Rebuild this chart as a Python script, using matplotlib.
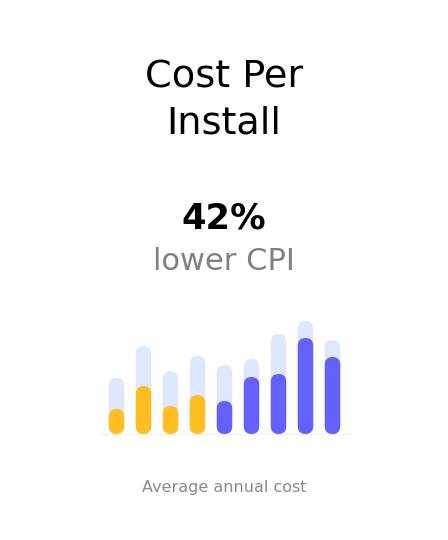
import matplotlib
matplotlib.use("Agg")
import matplotlib.pyplot as plt
from matplotlib.patches import FancyBboxPatch

title_lines = ["Cost Per", "Install"]
headline = "42%"
subline = "lower CPI"
caption = "Average annual cost"

categories = list(range(9))
bg_values = [56, 88, 63, 78, 69, 75, 100, 113, 94]
fg_values = [25, 48, 28, 39, 33, 57, 60, 96, 77]
fg_colors = ["#FFBF22"] * 4 + ["#6460FE"] * 5
BG_COLOR = "#DEE7FD"

W, H = 448, 540
DPI = 100
fig = plt.figure(figsize=(W / DPI, H / DPI), dpi=DPI)
fig.patch.set_facecolor("white")

FONT = ["DejaVu Sans"]

def fy(py):
    return 1 - py / H

fig.text(0.5, fy(87), title_lines[0], ha="center", va="baseline", fontsize=27.5,
         family=FONT, color="#000000")
fig.text(0.5, fy(133.5), title_lines[1], ha="center", va="baseline", fontsize=27.5,
         family=FONT, color="#000000")
fig.text(0.5, fy(228.5), headline, ha="center", va="baseline", fontsize=25.5,
         family=FONT, fontweight="bold", color="#000000")
fig.text(0.5, fy(270), subline, ha="center", va="baseline", fontsize=22,
         family=FONT, color="#808080")
fig.text(0.5, fy(492), caption, ha="center", va="baseline", fontsize=11.5,
         family=FONT, color="#8a8a8a")

# bar axes: pixel box
left_px, right_px = 100, 350
base_px, top_px = 434, 310
ax = fig.add_axes([left_px / W, fy(base_px), (right_px - left_px) / W, (base_px - top_px) / H])
step_px = 27.0
first_center = 116.5
ax.set_xlim(-(first_center - left_px) / step_px, (right_px - first_center) / step_px)
ax.set_ylim(0, base_px - top_px)
ax.axis("off")

bar_w = 15.5 / step_px
aspect = step_px / 1.0

def pill(x, h, color, z):
    p = FancyBboxPatch((x - bar_w / 2, 0), bar_w, h,
                       boxstyle=f"round,pad=0,rounding_size={bar_w / 2}",
                       mutation_aspect=aspect, facecolor=color, edgecolor="none",
                       zorder=z)
    ax.add_patch(p)

for c, b, f, col in zip(categories, bg_values, fg_values, fg_colors):
    pill(c, b, BG_COLOR, 2)
    pill(c, f, col, 3)

ax.plot([ax.get_xlim()[0], ax.get_xlim()[1]], [0, 0], color="#f2f2f2", lw=1, zorder=1,
        clip_on=False)

fig.savefig("out.png", dpi=DPI, facecolor="white")
